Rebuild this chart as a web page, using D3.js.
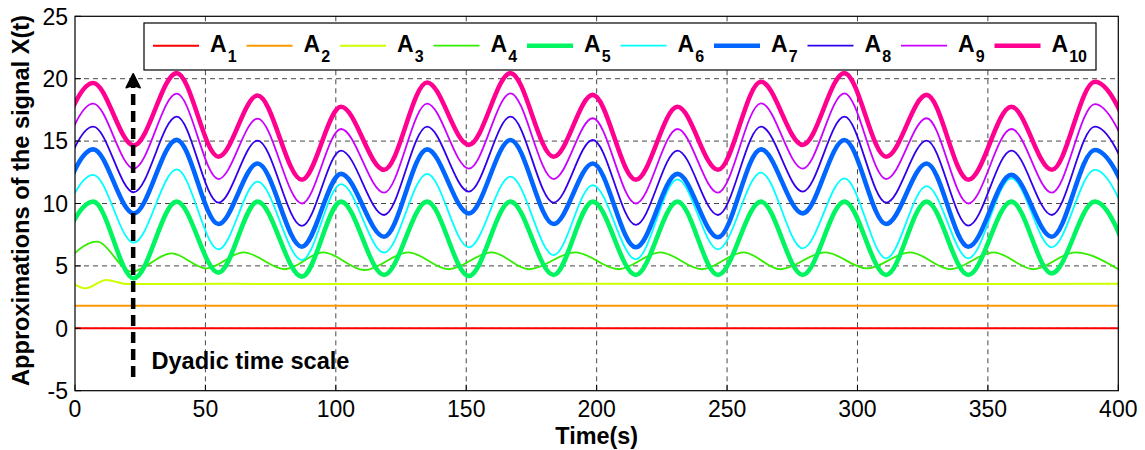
<!DOCTYPE html>
<html><head><meta charset="utf-8">
<script src="https://cdn.jsdelivr.net/npm/d3@7"></script>
<style>
body{margin:0;background:#fff}
svg{display:block;font-family:"Liberation Sans",Arial,sans-serif}
</style>
</head><body>
<svg id="chart" width="1145" height="450"></svg>
<script>
// ---------- data ----------
const xTicks = [0, 50, 100, 150, 200, 250, 300, 350, 400];
const yTicks = [-5, 0, 5, 10, 15, 20, 25];
const seriesLabels = ["1", "2", "3", "4", "5", "6", "7", "8", "9", "10"];

const tFlat = [0, 400];
const a1 = [0, 0];
const a2 = [1.8, 1.8];

const tA3 = [0, 4, 12, 20, 60, 120, 200, 280, 400];
const a3 = [3.5, 3.2, 3.87, 3.55, 3.56, 3.55, 3.56, 3.55, 3.56];

const tA4 = [-6, 8.3, 21.7, 37, 50.5, 64.6, 80.5, 95.2, 111, 127.8, 143.2, 159.8, 174, 191.8,
             208.4, 224.4, 240.3, 256.3, 270.4, 287.6, 303.6, 320.2, 335.6, 352.2, 367.5, 383.5, 400];
const a4 = [4.7, 6.94, 4.54, 6.0, 4.8, 6.09, 4.73, 6.09, 4.67, 6.09, 4.73, 6.09, 4.73, 6.09,
            4.73, 6.09, 4.73, 6.09, 4.73, 6.09, 4.8, 6.09, 4.73, 6.09, 4.73, 6.09, 4.73];

// turning points shared by A5..A10
const tWave = [-9.5, 7, 22.5, 39, 55, 70, 87, 102, 118.5, 135, 151, 167, 183.5, 198.5,
               215, 231, 246.5, 263, 279, 295, 311, 326.5, 342.5, 359, 374.5, 391, 406.5];
const a5 = [4.27, 10.15, 4.0, 10.15, 4.46, 10.15, 4.14, 10.15, 4.27, 10.15, 4.19, 10.15, 4.27, 10.15,
            4.27, 10.15, 4.27, 10.15, 4.27, 10.15, 4.27, 10.15, 4.27, 10.15, 4.4, 10.15, 4.2];
const a6 = [6.1, 12.3, 6.86, 12.74, 6.33, 11.75, 5.47, 11.56, 6.06, 12.37, 6.49, 12.15, 5.87, 11.48,
            5.53, 11.94, 6.33, 12.47, 6.41, 12.02, 5.61, 11.4, 5.61, 12.02, 6.49, 12.69, 7.2];
const a7 = [7.34, 14.34, 9.2, 15.1, 8.36, 13.2, 6.54, 12.37, 7.34, 14.34, 9.2, 15.09, 8.36, 13.2,
            6.49, 12.37, 7.29, 14.34, 9.21, 15.09, 8.36, 13.2, 6.54, 12.29, 7.34, 14.29, 9.2];
const a8 = [9.08, 16.16, 10.9, 16.96, 10.07, 15.04, 8.2, 14.24, 9.08, 16.16, 10.95, 16.96, 10.07, 15.09,
            8.28, 14.24, 9.08, 16.16, 10.95, 16.96, 10.07, 15.04, 8.23, 14.24, 9.08, 16.16, 10.95];
const a9 = [10.87, 18.0, 12.8, 18.8, 11.96, 16.8, 10.0, 15.97, 10.87, 18.0, 12.8, 18.83, 11.96, 16.83,
            10.0, 15.97, 10.87, 18.03, 12.8, 18.83, 11.96, 16.83, 10.0, 15.97, 10.87, 17.97, 12.8];
const a10 = [12.7, 19.65, 14.65, 20.45, 13.75, 18.65, 11.9, 17.75, 12.7, 19.7, 14.7, 20.45, 13.75, 18.7,
             11.9, 17.75, 12.7, 19.75, 14.7, 20.45, 13.75, 18.7, 11.9, 17.75, 12.7, 19.75, 14.7];

const arrowT = 22.3, arrowFrom = -3.9, arrowTo = 20.4;
const noteText = "Dyadic time scale";

// ---------- styles ----------
const colors = ["#ff0000", "#ff9900", "#ccff00", "#33ee00", "#00f560",
                "#00ffff", "#0066ff", "#3300ee", "#cc00ff", "#ff0090"];
const widths = [2, 2, 2, 1.8, 4.6, 1.8, 4.6, 1.8, 1.8, 4.6];

const series = [
  [tFlat, a1], [tFlat, a2], [tA3, a3], [tA4, a4], [tWave, a5],
  [tWave, a6], [tWave, a7], [tWave, a8], [tWave, a9], [tWave, a10]
].map(([t, v], i) => ({ pts: t.map((tt, j) => [tt, v[j]]), color: colors[i], w: widths[i], label: seriesLabels[i] }));

// ---------- layout ----------
const L = 75, R = 1118.3, T = 16.3, B = 390.7;
const x = d3.scaleLinear().domain([0, 400]).range([L, R]);
const y = d3.scaleLinear().domain([-5, 25]).range([B, T]);
const svg = d3.select("#chart");

svg.append("defs").append("clipPath").attr("id", "clip")
  .append("rect").attr("x", L).attr("y", T).attr("width", R - L).attr("height", B - T);

// grid
const grid = svg.append("g").attr("stroke", "#000").attr("stroke-width", 0.9)
  .attr("stroke-dasharray", "5,4").attr("opacity", 0.8);
grid.selectAll(".gx").data(xTicks.slice(1, -1)).join("line")
  .attr("x1", d => x(d)).attr("x2", d => x(d)).attr("y1", T).attr("y2", B);
grid.selectAll(".gy").data(yTicks.slice(1, -1)).join("line")
  .attr("y1", d => y(d)).attr("y2", d => y(d)).attr("x1", L).attr("x2", R);

// lines
const line = d3.line().x(d => x(d[0])).y(d => y(d[1])).curve(d3.curveMonotoneX);
svg.append("g").attr("clip-path", "url(#clip)")
  .selectAll("path").data(series).join("path")
  .attr("d", d => line(d.pts)).attr("fill", "none")
  .attr("stroke", d => d.color).attr("stroke-width", d => d.w)
  .attr("stroke-linejoin", "round").attr("stroke-linecap", "round");

// dyadic arrow
const ax = x(arrowT);
svg.append("line").attr("x1", ax).attr("x2", ax)
  .attr("y1", y(arrowFrom)).attr("y2", y(arrowTo) + 12)
  .attr("stroke", "#000").attr("stroke-width", 4.5).attr("stroke-dasharray", "11,6");
const ay = y(arrowTo);
svg.append("path")
  .attr("d", `M${ax},${ay} L${ax - 7},${ay + 14} Q${ax},${ay + 11} ${ax + 7},${ay + 14} Z`)
  .attr("fill", "#000").attr("stroke", "#000").attr("stroke-width", 1.5).attr("stroke-linejoin", "round");
svg.append("text").attr("x", x(29.3)).attr("y", y(-3.25))
  .attr("font-size", 23.6).attr("font-weight", "bold").text(noteText);

// axes frame
svg.append("rect").attr("x", L).attr("y", T).attr("width", R - L).attr("height", B - T)
  .attr("fill", "none").attr("stroke", "#000").attr("stroke-width", 1.2);

// ticks (inside)
const tk = svg.append("g").attr("stroke", "#000").attr("stroke-width", 1);
tk.selectAll(".tx").data(xTicks).join("line")
  .attr("x1", d => x(d)).attr("x2", d => x(d)).attr("y1", B).attr("y2", B - 6);
tk.selectAll(".ty").data(yTicks).join("line")
  .attr("y1", d => y(d)).attr("y2", d => y(d)).attr("x1", L).attr("x2", L + 6);

// tick labels
svg.append("g").selectAll("text").data(xTicks).join("text")
  .attr("x", d => x(d)).attr("y", 417).attr("text-anchor", "middle")
  .attr("font-size", 23).text(d => d);
svg.append("g").selectAll("text").data(yTicks).join("text")
  .attr("x", 68).attr("y", d => y(d) + 8.3).attr("text-anchor", "end")
  .attr("font-size", 23).text(d => d);

// axis titles
svg.append("text").attr("x", (L + R) / 2).attr("y", 444).attr("text-anchor", "middle")
  .attr("font-size", 23.4).attr("font-weight", "bold").text("Time(s)");
svg.append("text").attr("transform", `translate(29,${(T + B) / 2 - 3}) rotate(-90)`)
  .attr("text-anchor", "middle").attr("font-size", 23.6).attr("font-weight", "bold")
  .text("Approximations of the signal X(t)");

// legend
const lg = svg.append("g");
lg.append("rect").attr("x", 144).attr("y", 23).attr("width", 952).attr("height", 47)
  .attr("fill", "#fff").attr("stroke", "#000").attr("stroke-width", 1.2);
const items = lg.selectAll("g.it").data(series).join("g")
  .attr("transform", (d, i) => `translate(${153 + 93.5 * i},0)`);
items.append("line").attr("x1", 0).attr("x2", 46).attr("y1", 45.7).attr("y2", 45.7)
  .attr("stroke", d => d.color).attr("stroke-width", d => Math.min(d.w, 4.5));
const lt = items.append("text").attr("x", 57).attr("y", 51.5)
  .attr("font-size", 23).attr("font-weight", "bold");
lt.append("tspan").text("A");
lt.append("tspan").attr("font-size", 16).attr("dy", 10.5).attr("dx", 1).text(d => d.label);
</script>
</body></html>
